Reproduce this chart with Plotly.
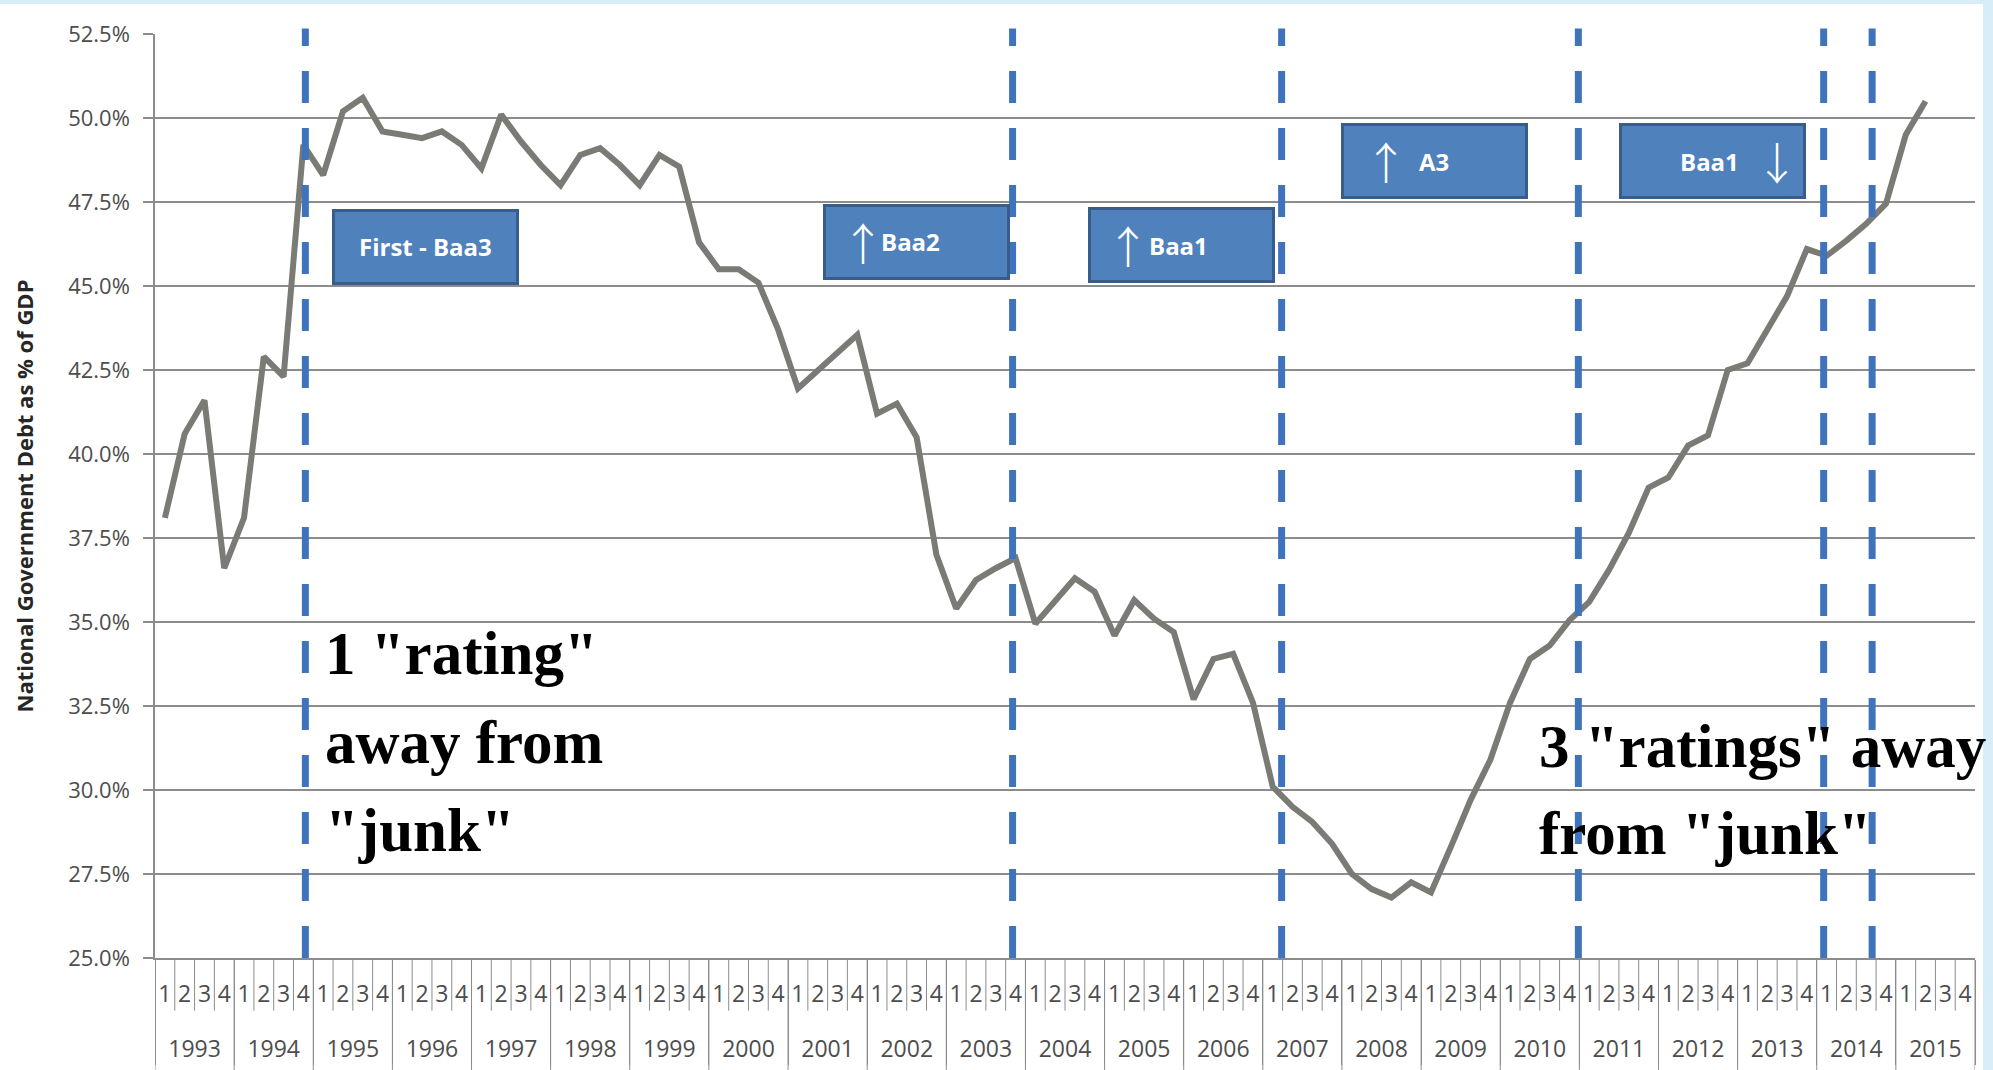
import plotly.graph_objects as go

# ---------------- data ----------------
years = [str(y) for y in range(1993, 2016)]
quarters = ["1", "2", "3", "4"]

# National government debt as % of GDP, quarterly 1993Q1 .. 2015Q2
debt_pct = [38.1, 40.6, 41.6, 36.6, 38.1, 42.9, 42.3, 49.2, 48.3, 50.2, 50.6, 49.6, 49.5, 49.4, 49.6, 49.2,
            48.5, 50.1, 49.3, 48.6, 48.0, 48.9, 49.1, 48.6, 48.0, 48.9, 48.55, 46.3, 45.5, 45.5, 45.1, 43.7,
            41.95, 42.5, 43.0, 43.55, 41.2, 41.5, 40.5, 37.0, 35.4, 36.25, 36.6, 36.9, 34.95, 35.65, 36.3, 35.9,
            34.6, 35.65, 35.1, 34.7, 32.7, 33.9, 34.05, 32.6, 30.1, 29.5, 29.05, 28.4, 27.5, 27.05, 26.8, 27.25,
            26.95, 28.3, 29.7, 30.9, 32.6, 33.9, 34.3, 35.05, 35.6, 36.55, 37.65, 39.0, 39.3, 40.25, 40.55, 42.5,
            42.7, 43.7, 44.7, 46.1, 45.9, 46.35, 46.85, 47.45, 49.5, 50.5]

# Moody's rating changes (year, quarter)
rating_events = [("1994", "4"), ("2003", "4"), ("2007", "1"), ("2010", "4"), ("2014", "1"), ("2014", "3")]

# rating boxes: (label, arrow, year, quarter, level %)
rating_boxes = [
    ("First - Baa3", "", "1996", "2", 46.17),
    ("Baa2", "\u2191", "2002", "3", 46.32),
    ("Baa1", "\u2191", "2005", "4", 46.22),
    ("A3", "\u2191", "2009", "1", 48.72),
    ("Baa1", "\u2193", "2012", "3", 48.72),
]

y_ticks = [25.0, 27.5, 30.0, 32.5, 35.0, 37.5, 40.0, 42.5, 45.0, 47.5, 50.0, 52.5]

# ---------------- build ----------------
x_year = [y for y in years for q in quarters]
x_q = [q for y in years for q in quarters]
y_vals = debt_pct + [None] * (len(x_q) - len(debt_pct))


def cat_index(y, q):
    return years.index(y) * 4 + quarters.index(q)


GRID = "#8c8c8c"
LABEL = "#4d4d4d"
BLUE_LINE = "#3f74bd"

fig = go.Figure()
fig.add_trace(go.Scatter(
    x=[x_year, x_q], y=y_vals, mode="lines",
    line=dict(color="#7b7b75", width=6),
    connectgaps=False, showlegend=False, hoverinfo="skip",
))

shapes = []
# quarter separators in the label band, year separators running to the bottom
for i in range(1, len(x_q) + 1):
    year_edge = (i % 4 == 0)
    shapes.append(dict(type="line", xref="x", yref="paper", x0=i - 0.5, x1=i - 0.5,
                       y0=0, y1=-0.13 if year_edge else -0.057, line=dict(color=GRID, width=1)))
shapes.append(dict(type="line", xref="x", yref="paper", x0=-0.5, x1=-0.5,
                   y0=0, y1=-0.13, line=dict(color=GRID, width=1)))

line_shift = [0.1, -0.15, 0.45, 0.45, -0.15, 0.3]
for (yr, q), sh in zip(rating_events, line_shift):
    xi = cat_index(yr, q) + sh
    shapes.append(dict(type="line", xref="x", yref="paper", x0=xi, x1=xi, y0=0.0, y1=1.006,
                       line=dict(color=BLUE_LINE, width=7, dash="32px,25px"), layer="above"))

# light blue frame pieces (top and right)
shapes.append(dict(type="rect", xref="paper", yref="paper", x0=-0.1, x1=1.1, y0=1.0325, y1=1.05,
                   fillcolor="#d7edf8", line=dict(width=0), layer="below"))
shapes.append(dict(type="rect", xref="paper", yref="paper", x0=1.0044, x1=1.02, y0=-0.2, y1=1.05,
                   fillcolor="#d7edf8", line=dict(width=0), layer="below"))

annotations = []
box_shift = [0.15, 0.0, 0.4, 0.2, 0.25]
text_shift = [0, -6, -3, -1, -3]
arrow_shift = [0, -54, -54, -49, 64]
for (txt, arrow, yr, q, lvl), sh, tsh, ash in zip(rating_boxes, box_shift, text_shift, arrow_shift):
    xb = cat_index(yr, q) + sh
    annotations.append(dict(
        x=xb, y=lvl, xref="x", yref="y", text=" ", showarrow=False,
        bgcolor="#4f81bd", bordercolor="#385d8a", borderwidth=3, borderpad=0,
        width=181, height=70,
    ))
    annotations.append(dict(
        x=xb, y=lvl, xref="x", yref="y", text=txt, showarrow=False, xshift=tsh,
        font=dict(family="Open Sans", size=24, color="white", weight="bold"),
    ))
    if arrow:
        annotations.append(dict(
            x=xb, y=lvl, xref="x", yref="y", text=arrow, showarrow=False, xshift=ash,
            font=dict(family="Noto Sans CJK JP", size=44, color="white", weight=300),
        ))

big_font = dict(family="Liberation Serif", size=61, color="black", weight="bold")
for txt, yv in [("1 \"rating\"", 34.05), ("away from", 31.42), ("\"junk\"", 28.8)]:
    annotations.append(dict(x=8.0, y=yv, xref="x", yref="y", text=txt, showarrow=False,
                            xanchor="left", yanchor="middle", font=big_font))
for txt, yv in [("3 \"ratings\" away", 31.3), ("from \"junk\"", 28.72)]:
    annotations.append(dict(x=69.35, y=yv, xref="x", yref="y", text=txt, showarrow=False,
                            xanchor="left", yanchor="middle", font=big_font))

fig.update_layout(
    width=1993, height=1070,
    margin=dict(l=155, r=18, t=34, b=112),
    paper_bgcolor="white", plot_bgcolor="white",
    shapes=shapes, annotations=annotations,
    font=dict(family="Open Sans", color=LABEL),
)

fig.update_xaxes(
    type="multicategory", showgrid=False,
    showline=True, linecolor=GRID, linewidth=1.5,
    ticks="outside", tickson="labels", ticklen=36, tickcolor="rgba(0,0,0,0)",
    nticks=200, tickangle=0,
    ticklabelstandoff=-21,
    showdividers=True, dividercolor=GRID, dividerwidth=1,
    tickfont=dict(size=23, color=LABEL),
    range=[-0.5, 91.5], automargin=False,
)
fig.update_yaxes(
    range=[25, 52.5], tickvals=y_ticks, ticktext=[f"{v:.1f}%" for v in y_ticks],
    showgrid=True, gridcolor=GRID, gridwidth=1.5,
    showline=True, linecolor=GRID, linewidth=1.5,
    ticks="outside", ticklen=10, tickcolor=GRID, tickwidth=1.5,
    ticklabelstandoff=9,
    tickfont=dict(size=22, color=LABEL),
    title=dict(text="National Government Debt as % of GDP", standoff=28,
               font=dict(size=22, color="#262626", family="Open Sans", weight="bold")),
    automargin=False, zeroline=False,
)

fig.write_html("out.html", config={"displayModeBar": False},
               post_script="document.body.style.margin='0px';")
